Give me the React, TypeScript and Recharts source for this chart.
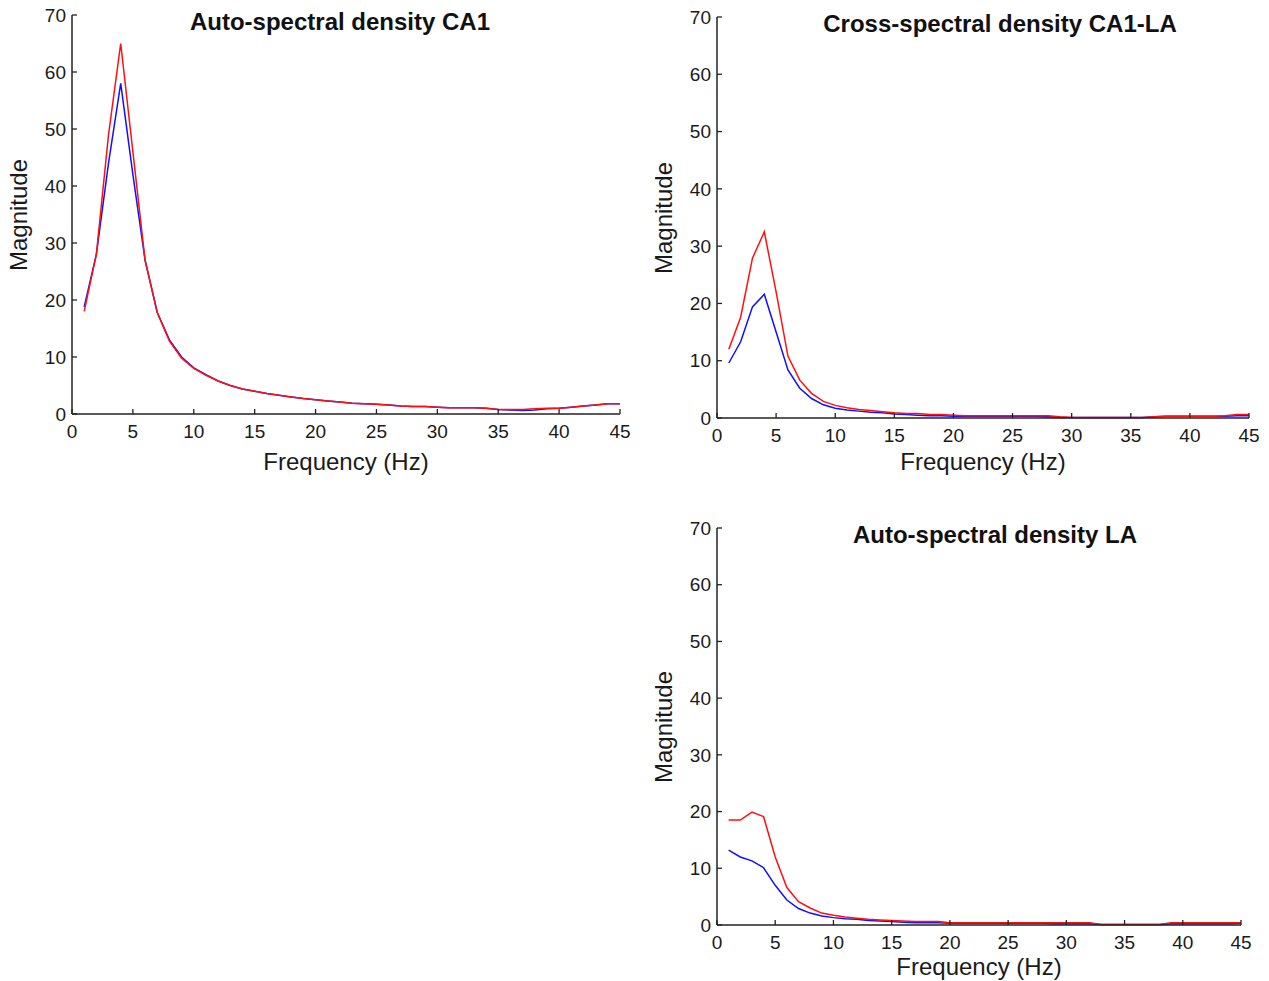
import { LineChart, Line, XAxis, YAxis } from "recharts";

const FONT = "'Liberation Sans', Arial, Helvetica, sans-serif";

const freqs = [
  1, 2, 3, 4, 5, 6, 7, 8, 9, 10, 11, 12, 13, 14, 15, 16, 17, 18, 19, 20, 21, 22, 23,
  24, 25, 26, 27, 28, 29, 30, 31, 32, 33, 34, 35, 36, 37, 38, 39, 40, 41, 42, 43, 44, 45,
];
const xTicks = [0, 5, 10, 15, 20, 25, 30, 35, 40, 45];
const yTicks = [0, 10, 20, 30, 40, 50, 60, 70];

// auto-spectral density CA1
const ca1Red = [
  18.0, 28.0, 49.0, 65.0, 46.0, 27.0, 17.8, 12.8, 9.8, 8.0, 6.8, 5.8, 5.0, 4.4, 4.0, 3.6,
  3.3, 3.0, 2.7, 2.5, 2.3, 2.1, 1.9, 1.8, 1.7, 1.6, 1.4, 1.3, 1.3, 1.2, 1.1, 1.1, 1.1, 1.0,
  0.8, 0.8, 0.8, 0.9, 1.0, 1.0, 1.2, 1.4, 1.6, 1.8, 1.8,
];
const ca1Blue = [
  18.8, 28.0, 44.0, 58.0, 42.0, 27.0, 17.8, 13.0, 10.0, 8.1, 6.9, 5.8, 5.0, 4.4, 4.0, 3.6,
  3.3, 3.0, 2.7, 2.5, 2.3, 2.1, 1.9, 1.8, 1.7, 1.6, 1.4, 1.3, 1.3, 1.2, 1.1, 1.1, 1.1, 1.0,
  0.8, 0.7, 0.6, 0.7, 0.9, 1.0, 1.2, 1.4, 1.6, 1.8, 1.8,
];

// cross-spectral density CA1-LA
const crossRed = [
  12.0, 17.6, 27.9, 32.5, 22.0, 10.8, 6.6, 4.3, 2.9, 2.2, 1.8, 1.5, 1.3, 1.1, 0.9, 0.8, 0.8,
  0.6, 0.6, 0.5, 0.4, 0.4, 0.4, 0.4, 0.4, 0.4, 0.4, 0.4, 0.2, 0.1, 0.1, 0.1, 0.1, 0.1, 0.1,
  0.1, 0.2, 0.3, 0.3, 0.3, 0.3, 0.3, 0.4, 0.6, 0.6,
];
const crossBlue = [
  9.6, 13.3, 19.4, 21.6, 15.0, 8.4, 5.2, 3.4, 2.3, 1.7, 1.4, 1.2, 1.0, 0.9, 0.7, 0.6, 0.5,
  0.4, 0.4, 0.3, 0.3, 0.3, 0.3, 0.3, 0.3, 0.3, 0.3, 0.2, 0.1, 0.1, 0.1, 0.1, 0.1, 0.1, 0.1,
  0.1, 0.2, 0.3, 0.3, 0.3, 0.3, 0.3, 0.3, 0.4, 0.4,
];

// auto-spectral density LA
const laRed = [
  18.5, 18.5, 19.9, 19.1, 12.0, 6.6, 4.1, 3.0, 2.1, 1.7, 1.4, 1.2, 1.0, 0.9, 0.8, 0.7, 0.6,
  0.6, 0.6, 0.4, 0.4, 0.4, 0.4, 0.4, 0.4, 0.4, 0.4, 0.4, 0.4, 0.4, 0.4, 0.4, 0.1, 0.1, 0.1,
  0.1, 0.1, 0.1, 0.4, 0.4, 0.4, 0.4, 0.4, 0.4, 0.4,
];
const laBlue = [
  13.2, 12.0, 11.3, 10.1, 7.0, 4.4, 2.9, 2.1, 1.6, 1.3, 1.1, 1.0, 0.8, 0.7, 0.6, 0.5, 0.4,
  0.4, 0.4, 0.3, 0.3, 0.3, 0.3, 0.3, 0.3, 0.3, 0.3, 0.3, 0.2, 0.2, 0.2, 0.2, 0.1, 0.1, 0.1,
  0.1, 0.1, 0.1, 0.2, 0.2, 0.2, 0.2, 0.2, 0.2, 0.3,
];

type Margin = { top: number; right: number; bottom: number; left: number };

function Panel(props: {
  title: string;
  titleShift: number;
  xLabelShift: number;
  red: number[];
  blue: number[];
  left: number;
  top: number;
  width: number;
  height: number;
  margin: Margin;
}) {
  const { title, titleShift, xLabelShift, red, blue, left, top, width, height, margin } = props;
  const data = freqs.map((f, i) => ({ f, red: red[i], blue: blue[i] }));
  const plotLeft = margin.left + 60;
  const plotRight = width - margin.right;
  const plotTop = margin.top;
  const plotBottom = height - margin.bottom - 40;
  const cx = (plotLeft + plotRight) / 2;
  const cy = (plotTop + plotBottom) / 2;
  const tickStyle = { fontSize: 19, fill: "#1a1a1a", fontFamily: FONT };

  return (
    <div style={{ position: "absolute", left, top, width, height }}>
      <LineChart width={width} height={height} data={data} margin={margin}>
        <XAxis
          dataKey="f"
          type="number"
          domain={[0, 45]}
          ticks={xTicks}
          interval={0}
          tickSize={-5}
          tickMargin={16}
          height={40}
          tick={tickStyle}
          axisLine={{ stroke: "#222", strokeWidth: 1.5 }}
          tickLine={{ stroke: "#222", strokeWidth: 1.3 }}
        />
        <YAxis
          type="number"
          domain={[0, 70]}
          ticks={yTicks}
          interval={0}
          width={60}
          tickSize={-5}
          tickMargin={11}
          tick={tickStyle}
          axisLine={{ stroke: "#222", strokeWidth: 1.5 }}
          tickLine={{ stroke: "#222", strokeWidth: 1.3 }}
        />
        <Line dataKey="blue" stroke="#1010ff" strokeWidth={1.5} dot={false} isAnimationActive={false} />
        <Line dataKey="red" stroke="#ff1010" strokeWidth={1.5} dot={false} isAnimationActive={false} />
      </LineChart>
      <div
        style={{
          position: "absolute",
          left: cx + titleShift - 250,
          width: 500,
          top: plotTop - 6,
          textAlign: "center",
          fontFamily: FONT,
          fontWeight: "bold",
          fontSize: 24,
          lineHeight: "26px",
          color: "#111",
        }}
      >
        {title}
      </div>
      <div
        style={{
          position: "absolute",
          left: cx - 150,
          width: 300,
          top: plotBottom + 31 + xLabelShift,
          textAlign: "center",
          fontFamily: FONT,
          fontSize: 24,
          lineHeight: "26px",
          color: "#1a1a1a",
        }}
      >
        Frequency (Hz)
      </div>
      <div
        style={{
          position: "absolute",
          left: plotLeft - 53 - 100,
          top: cy - 13,
          width: 200,
          textAlign: "center",
          fontFamily: FONT,
          fontSize: 24,
          lineHeight: "26px",
          color: "#1a1a1a",
          transform: "rotate(-90deg)",
        }}
      >
        Magnitude
      </div>
    </div>
  );
}

export default function App() {
  return (
    <div style={{ position: "absolute", left: 0, top: 0, width: 1269, height: 981, background: "#fff" }}>
      <Panel
        title="Auto-spectral density CA1"
        titleShift={-6}
        xLabelShift={4}
        red={ca1Red}
        blue={ca1Blue}
        left={0}
        top={0}
        width={640}
        height={480}
        margin={{ top: 15, right: 20, bottom: 26, left: 12 }}
      />
      <Panel
        title="Cross-spectral density CA1-LA"
        titleShift={17}
        xLabelShift={0}
        red={crossRed}
        blue={crossBlue}
        left={640}
        top={0}
        width={629}
        height={480}
        margin={{ top: 17, right: 20, bottom: 22, left: 17 }}
      />
      <Panel
        title="Auto-spectral density LA"
        titleShift={16}
        xLabelShift={-2}
        red={laRed}
        blue={laBlue}
        left={640}
        top={500}
        width={629}
        height={481}
        margin={{ top: 28, right: 28, bottom: 16, left: 17 }}
      />
    </div>
  );
}
